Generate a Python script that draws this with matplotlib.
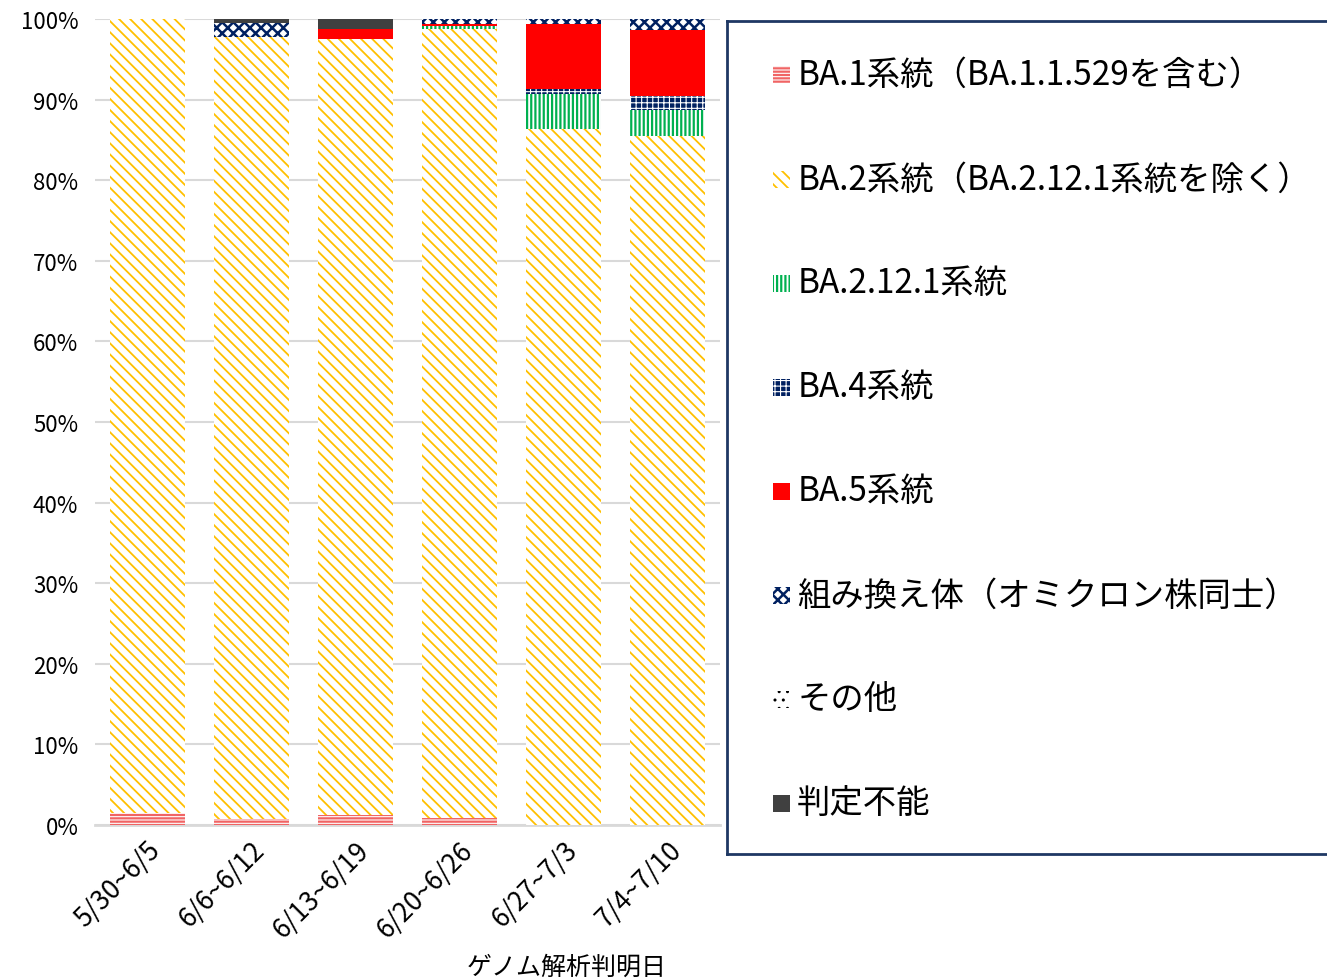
import matplotlib
matplotlib.use("Agg")
import matplotlib.pyplot as plt
import numpy as np
from matplotlib.patches import Rectangle

plt.rcParams["font.family"] = ["Noto Sans CJK JP", "DejaVu Sans"]

weeks = ["5/30~6/5", "6/6~6/12", "6/13~6/19", "6/20~6/26", "6/27~7/3", "7/4~7/10"]

ba1 = [1.5, 0.8, 1.25, 0.85, 0.0, 0.0]
ba2 = [98.5, 97.0, 96.3, 97.9, 86.3, 85.5]
ba2121 = [0.0, 0.0, 0.0, 0.4, 4.4, 3.2]
ba4 = [0.0, 0.0, 0.0, 0.0, 0.6, 1.8]
ba5 = [0.0, 0.0, 1.2, 0.2, 8.1, 8.1]
recomb = [0.0, 1.7, 0.0, 0.6, 0.6, 1.4]
other = [0.0, 0.0, 0.0, 0.0, 0.0, 0.0]
undet = [0.0, 0.5, 1.25, 0.0, 0.0, 0.0]

series_names = [
    "BA.1系統（BA.1.1.529を含む）",
    "BA.2系統（BA.2.12.1系統を除く）",
    "BA.2.12.1系統",
    "BA.4系統",
    "BA.5系統",
    "組み換え体（オミクロン株同士）",
    "その他",
    "判定不能",
]
series = [ba1, ba2, ba2121, ba4, ba5, recomb, other, undet]

# (facecolor, hatch color, hatch, hatch linewidth)
styles = [
    ("white", "#f06464", "-----", 1.6),
    ("white", "#ffc000", "\\\\\\", 1.3),
    ("white", "#00b050", "||||", 1.6),
    ("#002060", "white", "+++", 0.8),
    ("#ff0000", "#ff0000", None, 1.0),
    ("white", "#002060", "xxx", 1.8),
    ("white", "black", "..", 1.0),
    ("#404040", "#404040", None, 1.0),
]

fig = plt.figure(figsize=(13.27, 9.79), dpi=100)
ax = fig.add_axes([0.0716, 0.1563, 0.471, 0.8233])

x = np.arange(len(weeks))
bottom = np.zeros(len(weeks))
for vals, (fc, hc, h, hlw) in zip(series, styles):
    with plt.rc_context({"hatch.linewidth": hlw}):
        ax.bar(x, vals, 0.72, bottom=bottom, facecolor=fc, edgecolor=hc,
               hatch=h, linewidth=0, zorder=3)
    bottom += np.array(vals)

ax.set_xlim(-0.5, 5.5)
ax.set_ylim(0, 100)
ax.set_yticks(np.arange(0, 101, 10))
ax.set_yticklabels([f"{v}%" for v in range(0, 101, 10)], fontsize=16)
ax.set_xticks(x)
ax.set_xticklabels(weeks, rotation=45, ha="right", rotation_mode="anchor",
                   fontsize=19)
ax.tick_params(length=0)
ax.tick_params(axis="y", pad=12)
ax.tick_params(axis="x", pad=8)
ax.grid(axis="y", color="#d9d9d9", linewidth=1.5, zorder=0)
for s in ["top", "right", "left"]:
    ax.spines[s].set_visible(False)
ax.spines["bottom"].set_color("#d9d9d9")
ax.spines["bottom"].set_linewidth(2)

fig.text(0.427, 0.012, "ゲノム解析判明日", ha="center", va="center", fontsize=18)

# legend box
lax = fig.add_axes([0.548, 0.1267, 0.47, 0.851])
lax.set_xlim(727, 1351)
lax.set_ylim(855, 22)
lax.set_xticks([])
lax.set_yticks([])
for s in lax.spines.values():
    s.set_color("#1f3864")
    s.set_linewidth(2)
lax.spines["right"].set_visible(False)

ys = [75, 180, 284, 388, 492, 596, 700, 804]
for yy, name, (fc, hc, h, hlw) in zip(ys, series_names, styles):
    with plt.rc_context({"hatch.linewidth": hlw}):
        lax.add_patch(Rectangle((773, yy - 8), 17, 17, facecolor=fc,
                                edgecolor=hc, hatch=h, linewidth=0))
    lax.text(797, yy, name, va="center", ha="left", fontsize=24)

fig.savefig("out.png", dpi=100)
